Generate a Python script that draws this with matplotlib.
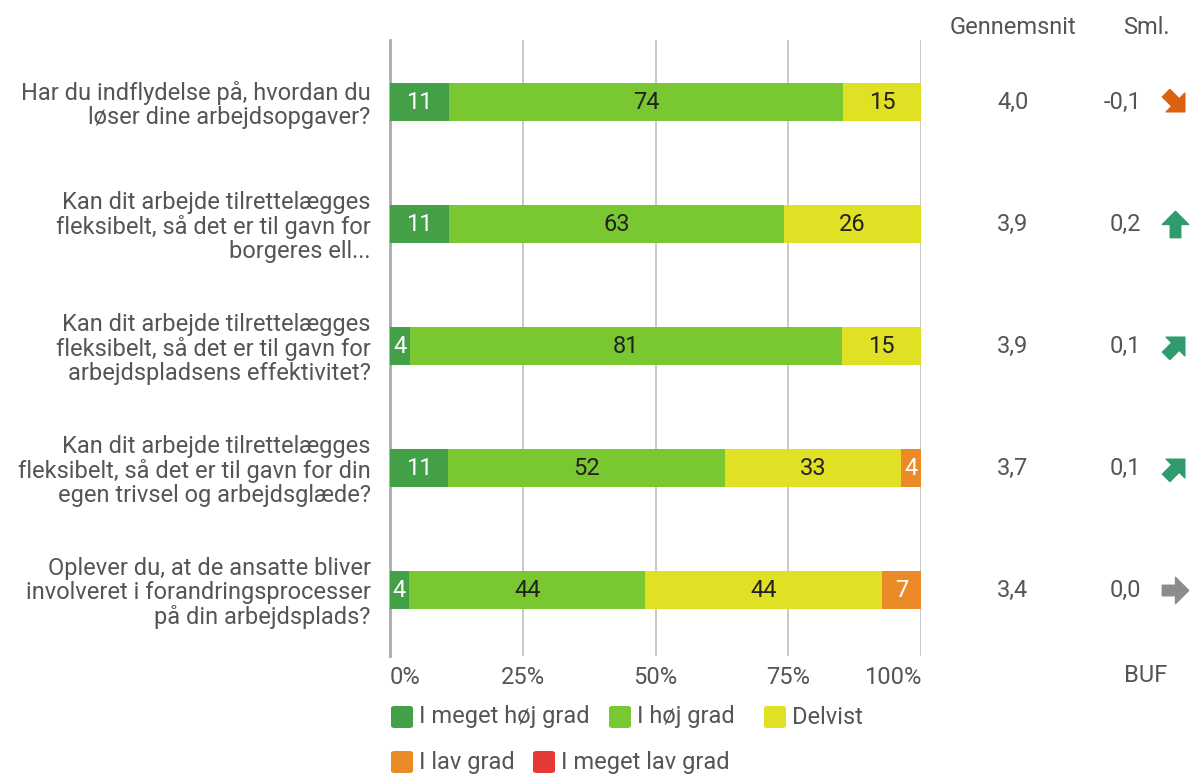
import numpy as np
import matplotlib.pyplot as plt
from matplotlib.path import Path
from matplotlib.markers import MarkerStyle
from matplotlib.transforms import Affine2D
from matplotlib.patches import FancyBboxPatch

plt.rcParams["font.family"] = ["Roboto", "DejaVu Sans"]

questions = [
    "Har du indflydelse på, hvordan du\nløser dine arbejdsopgaver?",
    "Kan dit arbejde tilrettelægges\nfleksibelt, så det er til gavn for\nborgeres ell...",
    "Kan dit arbejde tilrettelægges\nfleksibelt, så det er til gavn for\narbejdspladsens effektivitet?",
    "Kan dit arbejde tilrettelægges\nfleksibelt, så det er til gavn for din\negen trivsel og arbejdsglæde?",
    "Oplever du, at de ansatte bliver\ninvolveret i forandringsprocesser\npå din arbejdsplads?",
]
categories = ["I meget høj grad", "I høj grad", "Delvist", "I lav grad", "I meget lav grad"]
meget_hoej = [11.1, 11.1, 3.7, 11.0, 3.6]
hoej = [74.2, 63.1, 81.4, 52.0, 44.5]
delvist = [14.7, 25.8, 14.9, 33.3, 44.5]
lav = [0, 0, 0, 3.7, 7.4]
meget_lav = [0, 0, 0, 0, 0]
gennemsnit = ["4,0", "3,9", "3,9", "3,7", "3,4"]
sml = [-0.1, 0.2, 0.1, 0.1, 0.0]

colors = ["#43a047", "#79c832", "#e0e024", "#ec8a28", "#e53935"]
label_colors = ["white", "#222222", "#222222", "white", "white"]
text_col = "#555555"
fs = 17

W, H = 1190, 775
fig = plt.figure(figsize=(W / 100, H / 100), dpi=100)
ax = fig.add_axes([390 / W, 1 - 656 / H, 531 / W, 616 / H])

series = [meget_hoej, hoej, delvist, lav, meget_lav]
y = np.arange(len(questions))
left = np.zeros(len(questions))
for vals, col, lcol in zip(series, colors, label_colors):
    vals = np.array(vals, dtype=float)
    ax.barh(y, vals, left=left, height=0.31, color=col, zorder=3)
    for yi, (v, l) in enumerate(zip(vals, left)):
        if v > 0:
            ax.text(l + v / 2, yi, f"{v:.0f}", ha="center", va="center",
                    fontsize=fs, color=lcol, zorder=4)
    left += vals

ax.set_xlim(0, 100)
ax.set_ylim(4.54, -0.51)
ax.set_xticks([0, 25, 50, 75, 100])
ax.set_xticklabels(["0%", "25%", "50%", "75%", "100%"])
ax.set_yticks(y)
ax.set_yticklabels(questions)
ax.tick_params(axis="both", length=0, labelsize=fs, labelcolor=text_col)
ax.tick_params(axis="x", pad=7)
ax.tick_params(axis="y", pad=14)
for lab in ax.get_yticklabels():
    lab.set_multialignment("right")
    lab.set_linespacing(1.05)
xl = ax.get_xticklabels()
xl[0].set_ha("left")
xl[-1].set_ha("right")
ax.grid(axis="x", color="#c4c4c4", linewidth=1.3, zorder=0)
for s in ["top", "right", "bottom"]:
    ax.spines[s].set_visible(False)
ax.spines["left"].set_color("#aaaaaa")
ax.spines["left"].set_linewidth(2)


def fy(py):
    return 1 - py / H


fig.text(1013 / W, fy(28), "Gennemsnit", ha="center", va="center", fontsize=fs, color=text_col)
fig.text(1146 / W, fy(28), "Sml.", ha="center", va="center", fontsize=fs, color=text_col)
fig.text(1146 / W, fy(675), "BUF", ha="center", va="center", fontsize=fs, color=text_col)

arrow_verts = [(-0.5, -0.2), (0.0, -0.2), (0.0, -0.5), (0.5, 0.0),
               (0.0, 0.5), (0.0, 0.2), (-0.5, 0.2), (-0.5, -0.2)]
arrow_path = Path(arrow_verts, [Path.MOVETO] + [Path.LINETO] * 6 + [Path.CLOSEPOLY])

for yi, (g, d) in enumerate(zip(gennemsnit, sml)):
    py = ax.transData.transform((0, yi))[1]
    fig.text(1013 / W, py / H, g, ha="center", va="center", fontsize=fs, color=text_col)
    fig.text(1141 / W, py / H, f"{d:.1f}".replace(".", ","), ha="right", va="center",
             fontsize=fs, color=text_col)
    if d >= 0.2:
        ang, col = 90, "#2e9c6c"
    elif d > 0:
        ang, col = 45, "#2e9c6c"
    elif d < 0:
        ang, col = -45, "#dc6010"
    else:
        ang, col = 0, "#8c8c8c"
    m = MarkerStyle(arrow_path, transform=Affine2D().rotate_deg(ang))
    fig.lines.append(plt.Line2D([1175 / W], [py / H], transform=fig.transFigure,
                                marker=m, markersize=19, color=col, linestyle="none"))

# legend
legend_rows = [(717, [(390, 0), (608, 1), (763, 2)]), (762, [(390, 3), (532, 4)])]
for py, items in legend_rows:
    for px, i in items:
        fig.patches.append(FancyBboxPatch(((px + 1) / W, fy(py + 11)), 22 / W, 22 / H,
                                          boxstyle="round,pad=0,rounding_size=0.003",
                                          transform=fig.transFigure, facecolor=colors[i],
                                          edgecolor="none"))
        fig.text((px + 29) / W, fy(py), categories[i], ha="left", va="center",
                 fontsize=fs, color=text_col)

fig.savefig("out.png", dpi=100)
